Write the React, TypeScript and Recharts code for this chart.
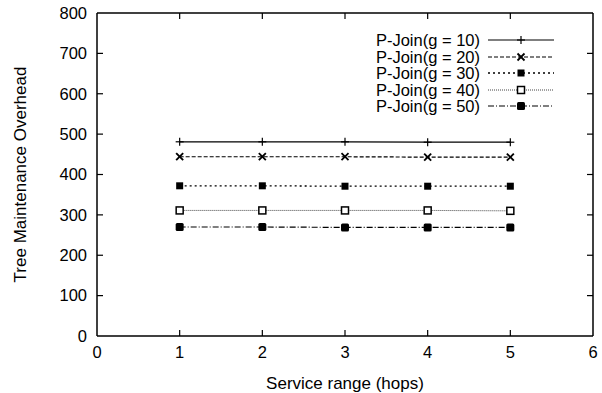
import React from 'react';
import { LineChart, Line, XAxis, YAxis } from 'recharts';

const serviceRange = [1, 2, 3, 4, 5];
const g10 = [481, 481, 481, 480, 480];
const g20 = [444, 444, 444, 443, 443];
const g30 = [372, 372, 371, 371, 371];
const g40 = [311, 311, 311, 311, 310];
const g50 = [270, 270, 269, 269, 269];
const xTicks = [0, 1, 2, 3, 4, 5, 6];
const yTicks = [0, 100, 200, 300, 400, 500, 600, 700, 800];
const seriesNames = ['P-Join(g = 10)', 'P-Join(g = 20)', 'P-Join(g = 30)', 'P-Join(g = 40)', 'P-Join(g = 50)'];

const data = serviceRange.map((x, i) => ({ x, g10: g10[i], g20: g20[i], g30: g30[i], g40: g40[i], g50: g50[i] }));

const FONT = '"Liberation Sans", Arial, Helvetica, sans-serif';
const CHART_W = 602;
const CHART_H = 393;
const MARGIN = { top: 13, right: 9, bottom: 0, left: 0 };
const X_AXIS_H = 57;
const Y_AXIS_W = 97;
const PLOT_TOP = MARGIN.top;
const PLOT_BOTTOM = CHART_H - MARGIN.bottom - X_AXIS_H;
const PLOT_LEFT = MARGIN.left + Y_AXIS_W;
const PLOT_RIGHT = CHART_W - MARGIN.right;
const X_MAX = xTicks[xTicks.length - 1];
const Y_MAX = yTicks[yTicks.length - 1];
const TICK_LEN = 6;

type MarkerKind = 'plus' | 'cross' | 'fsq' | 'osq' | 'fsq2';

const Marker = ({ kind, cx, cy }: { kind: MarkerKind; cx: number; cy: number }) => {
  if (kind === 'plus') {
    return (
      <g stroke="#000" strokeWidth={1.2}>
        <line x1={cx - 4} y1={cy} x2={cx + 4} y2={cy} />
        <line x1={cx} y1={cy - 4} x2={cx} y2={cy + 4} />
      </g>
    );
  }
  if (kind === 'cross') {
    return (
      <g stroke="#000" strokeWidth={1.8}>
        <line x1={cx - 3.5} y1={cy - 3.5} x2={cx + 3.5} y2={cy + 3.5} />
        <line x1={cx - 3.5} y1={cy + 3.5} x2={cx + 3.5} y2={cy - 3.5} />
      </g>
    );
  }
  if (kind === 'fsq') {
    return <rect x={cx - 3.5} y={cy - 3.5} width={7} height={7} fill="#000" />;
  }
  if (kind === 'osq') {
    return <rect x={cx - 3.5} y={cy - 3.5} width={7} height={7} fill="#fff" stroke="#000" strokeWidth={1.5} />;
  }
  return <rect x={cx - 4} y={cy - 4} width={8} height={8} rx={1.5} fill="#000" />;
};

const makeDot = (kind: MarkerKind) => (props: any) => (
  <Marker key={`${kind}-${props.index}`} kind={kind} cx={props.cx} cy={props.cy} />
);

const styles: { key: string; dash: string; color: string; width: number; marker: MarkerKind }[] = [
  { key: 'g10', dash: '', color: '#000', width: 1.2, marker: 'plus' },
  { key: 'g20', dash: '4 2', color: '#000', width: 1.2, marker: 'cross' },
  { key: 'g30', dash: '2 3', color: '#000', width: 1.3, marker: 'fsq' },
  { key: 'g40', dash: '1 1', color: '#444', width: 1, marker: 'osq' },
  { key: 'g50', dash: '6 2 1 2', color: '#000', width: 1.2, marker: 'fsq2' },
];

// Frame overlay: top & right border plus inward tick marks on all four sides,
// following the same linear mapping as the axes (domain [0, X_MAX] x [0, Y_MAX]).
const FrameOverlay = () => {
  const sx = (v: number) => PLOT_LEFT + (v / X_MAX) * (PLOT_RIGHT - PLOT_LEFT);
  const sy = (v: number) => PLOT_BOTTOM - (v / Y_MAX) * (PLOT_BOTTOM - PLOT_TOP);
  return (
    <svg
      width={CHART_W}
      height={CHART_H}
      style={{ position: 'absolute', left: 0, top: 0, pointerEvents: 'none' }}
    >
      <g stroke="#000" strokeWidth={1.5} fill="none">
        <line x1={PLOT_LEFT} y1={PLOT_TOP} x2={PLOT_RIGHT} y2={PLOT_TOP} />
        <line x1={PLOT_RIGHT} y1={PLOT_TOP} x2={PLOT_RIGHT} y2={PLOT_BOTTOM} />
      </g>
      <g stroke="#000" strokeWidth={1.2}>
        {xTicks.slice(1, -1).map((t) => (
          <g key={`x-${t}`}>
            <line x1={sx(t)} x2={sx(t)} y1={PLOT_BOTTOM} y2={PLOT_BOTTOM - TICK_LEN} />
            <line x1={sx(t)} x2={sx(t)} y1={PLOT_TOP} y2={PLOT_TOP + TICK_LEN} />
          </g>
        ))}
        {yTicks.slice(1, -1).map((t) => (
          <g key={`y-${t}`}>
            <line x1={PLOT_LEFT} x2={PLOT_LEFT + TICK_LEN} y1={sy(t)} y2={sy(t)} />
            <line x1={PLOT_RIGHT - TICK_LEN} x2={PLOT_RIGHT} y1={sy(t)} y2={sy(t)} />
          </g>
        ))}
      </g>
    </svg>
  );
};

const LegendBox = () => (
  <div style={{ position: 'absolute', left: 360, top: 32, fontFamily: FONT, fontSize: 16.5, color: '#000' }}>
    {styles.map((s, i) => (
      <div key={s.key} style={{ display: 'flex', alignItems: 'center', height: 16.5 }}>
        <span style={{ width: 120, textAlign: 'right', lineHeight: '16.5px', whiteSpace: 'nowrap' }}>{seriesNames[i]}</span>
        <svg width={70} height={14} style={{ marginLeft: 6 }}>
          <line x1={2} y1={7} x2={68} y2={7} stroke={s.color} strokeWidth={s.width} strokeDasharray={s.dash || undefined} />
          <Marker kind={s.marker} cx={35} cy={7} />
        </svg>
      </div>
    ))}
  </div>
);

export default function App() {
  return (
    <div style={{ position: 'absolute', left: 0, top: 0, width: CHART_W, height: CHART_H, background: '#fff' }}>
      <LineChart width={CHART_W} height={CHART_H} data={data} margin={MARGIN}>
        <XAxis
          xAxisId="b"
          dataKey="x"
          type="number"
          domain={[0, X_MAX]}
          ticks={xTicks}
          interval={0}
          tickLine={false}
          tickSize={0}
          tickMargin={10}
          stroke="#000"
          strokeWidth={1.5}
          tick={{ fill: '#000', fontSize: 16.5, fontFamily: FONT }}
          height={X_AXIS_H}
          label={{ value: 'Service range (hops)', position: 'insideBottom', offset: 4, fill: '#000', fontSize: 17, fontFamily: FONT }}
        />
        <YAxis
          yAxisId="l"
          type="number"
          domain={[0, Y_MAX]}
          ticks={yTicks}
          interval={0}
          tickLine={false}
          tickSize={0}
          tickMargin={10}
          stroke="#000"
          strokeWidth={1.5}
          width={Y_AXIS_W}
          tick={{ fill: '#000', fontSize: 16.5, fontFamily: FONT }}
          label={{ value: 'Tree Maintenance Overhead', angle: -90, position: 'insideLeft', offset: 20, fill: '#000', fontSize: 17, fontFamily: FONT, style: { textAnchor: 'middle' } }}
        />
        {styles.map((s) => (
          <Line
            key={s.key}
            xAxisId="b"
            yAxisId="l"
            dataKey={s.key}
            stroke={s.color}
            strokeWidth={s.width}
            strokeDasharray={s.dash || undefined}
            dot={makeDot(s.marker)}
            activeDot={false}
            isAnimationActive={false}
          />
        ))}
      </LineChart>
      <FrameOverlay />
      <LegendBox />
    </div>
  );
}
